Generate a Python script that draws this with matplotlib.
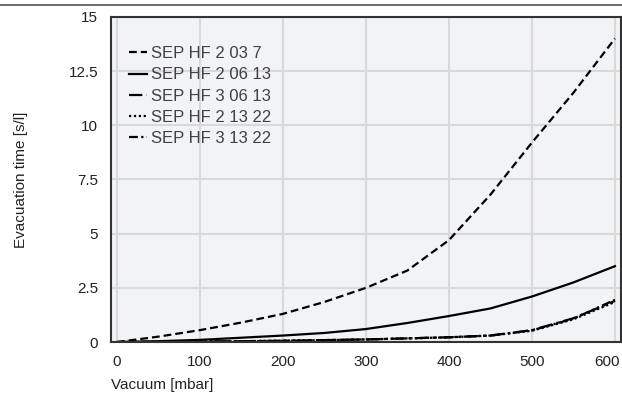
import numpy as np
import matplotlib.pyplot as plt
import matplotlib.transforms as mtransforms
from matplotlib.lines import Line2D

plt.rcParams['font.family'] = ['Liberation Sans', 'DejaVu Sans']
plt.rcParams['font.size'] = 11

# data
vacuum = [0, 50, 100, 150, 200, 250, 300, 350, 400, 450, 500, 550, 600]
hf2_03_7 = [0, 0.25, 0.55, 0.9, 1.3, 1.85, 2.5, 3.3, 4.7, 6.8, 9.2, 11.5, 14.0]
hf2_06_13 = [0, 0.04, 0.1, 0.2, 0.3, 0.42, 0.6, 0.88, 1.2, 1.55, 2.1, 2.75, 3.5]
hf3_06_13 = [0, 0.01, 0.02, 0.04, 0.06, 0.09, 0.12, 0.17, 0.22, 0.3, 0.55, 1.1, 1.9]
hf2_13_22 = [0, 0.01, 0.02, 0.04, 0.06, 0.09, 0.12, 0.17, 0.22, 0.3, 0.52, 1.05, 1.85]
hf3_13_22 = [0, 0.01, 0.02, 0.04, 0.06, 0.09, 0.12, 0.17, 0.22, 0.3, 0.54, 1.08, 1.95]

labels = ['SEP HF 2 03 7', 'SEP HF 2 06 13', 'SEP HF 3 06 13',
          'SEP HF 2 13 22', 'SEP HF 3 13 22']
series = [hf2_03_7, hf2_06_13, hf3_06_13, hf2_13_22, hf3_13_22]
styles = [(0, (3.5, 1.8)), '-', (0, (6, 2, 1.2, 2)), (0, (1, 1.2)),
          (0, (4, 1.5, 1, 1.5, 1, 1.5))]

fig = plt.figure(figsize=(6.22, 4.01), dpi=100)
ax = fig.add_axes([0.178, 0.147, 0.82, 0.811])
ax.set_facecolor('#f2f3f5')

for y, lab, ls in zip(series, labels, styles):
    ax.plot(vacuum, y, color='black', linestyle=ls, linewidth=1.6, label=lab)

ax.set_xlim(-7.5, 607)
ax.set_ylim(0, 15)
ax.set_xticks([0, 100, 200, 300, 400, 500, 600])
ax.set_yticks([0, 2.5, 5, 7.5, 10, 12.5, 15])
ax.set_yticklabels(['0', '2.5', '5', '7.5', '10', '12.5', '15'])
ax.tick_params(length=0, pad=9, labelsize=11, colors='#222222')
ax.grid(True, color='#d9d9d9', linewidth=1.5)
ax.set_axisbelow(True)
for s in ax.spines.values():
    s.set_color('#333333')
    s.set_linewidth(1.5)

# last x tick label pulled in so it stays inside the figure
lastlab = ax.get_xticklabels()[-1]
lastlab.set_transform(lastlab.get_transform() +
                      mtransforms.ScaledTranslation(-8 / 100, 0, fig.dpi_scale_trans))

ax.set_ylabel('Evacuation time [s/l]', fontsize=11, color='#222222', labelpad=29)
ax.set_xlabel('Vacuum [mbar]', fontsize=11, color='#222222')
ax.xaxis.set_label_coords(0.0, -0.11)
ax.xaxis.label.set_horizontalalignment('left')

leg = ax.legend(loc='upper left', bbox_to_anchor=(0.022, 0.93), frameon=False,
                handlelength=1.1, handletextpad=0.25, labelspacing=0.37,
                fontsize=12, borderaxespad=0)
for t in leg.get_texts():
    t.set_color('#404040')

fig.add_artist(Line2D([0, 1], [0.988, 0.988], color='#555555', linewidth=1.2))

plt.savefig('out.png', dpi=100)
